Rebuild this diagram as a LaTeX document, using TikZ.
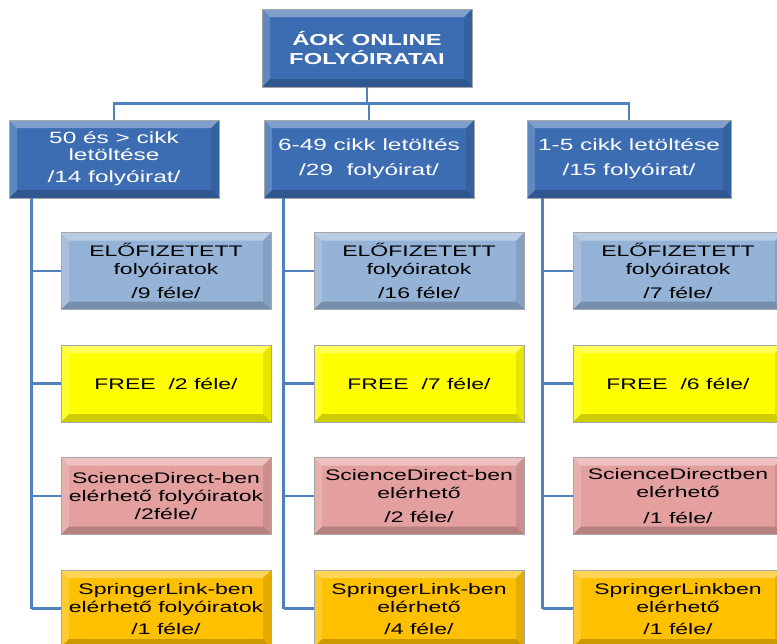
\documentclass[tikz,border=0pt]{standalone}
\usepackage{fontspec}
\setmainfont{Liberation Sans}[FakeStretch=1.5]
\usetikzlibrary{positioning}
\definecolor{darkblue}{HTML}{3C6DB3}
\definecolor{paleblue}{HTML}{95B3D7}
\definecolor{freeyellow}{HTML}{FFFF00}
\definecolor{rose}{HTML}{E3A09E}
\definecolor{gold}{HTML}{FFC000}
\definecolor{linkblue}{HTML}{4F81BD}

\tikzset{
  bevel/.style={path picture={
    \coordinate (nw) at (path picture bounding box.north west);
    \coordinate (ne) at (path picture bounding box.north east);
    \coordinate (sw) at (path picture bounding box.south west);
    \coordinate (se) at (path picture bounding box.south east);
    \fill[white,opacity=.35] (nw) -- (ne) -- ([shift={(-6pt,-6pt)}]ne) -- ([shift={(6pt,-6pt)}]nw) -- cycle;
    \fill[white,opacity=.18] (nw) -- (sw) -- ([shift={(6pt,6pt)}]sw) -- ([shift={(6pt,-6pt)}]nw) -- cycle;
    \fill[black,opacity=.2] (sw) -- (se) -- ([shift={(-6pt,6pt)}]se) -- ([shift={(6pt,6pt)}]sw) -- cycle;
    \fill[black,opacity=.1] (ne) -- (se) -- ([shift={(-6pt,6pt)}]se) -- ([shift={(-6pt,-6pt)}]ne) -- cycle;
  }},
  box/.style={bevel, fill=#1, draw=gray!70, line width=0.4pt, align=center, inner sep=2pt},
  root/.style={box=darkblue, text=white, font=\bfseries\fontsize{11.9}{14.25}\selectfont,
    minimum width=157.5pt, minimum height=58.5pt},
  cat/.style={box=darkblue, text=white, font=\fontsize{12.2}{12.75}\selectfont,
    minimum width=157.5pt, minimum height=58.5pt},
  item/.style={box=#1, font=\fontsize{11.5}{13.5}\selectfont,
    minimum width=157.5pt, minimum height=57.75pt},
  link/.style={draw=linkblue, line width=2pt},
}

\begin{document}
\begin{tikzpicture}[x=0.75pt,y=-0.75pt,node distance=26.25pt]
	\useasboundingbox (0,0) rectangle (777,643);
	\clip (0,0) rectangle (777,643);
	% top
	\node[root] (root) at (367,48) {ÁOK ONLINE\\FOLYÓIRATAI};
	% download groups
	\node[cat] (a_0) at (114,159) {50 és > cikk\\letöltése\\[4pt]/14 folyóirat/};
	\node[cat] (b_0) at (369,159) {6-49 cikk letöltés\\[6pt]/29\ \ folyóirat/};
	\node[cat,minimum width=153pt] (c_0) at (629,159) {1-5 cikk letöltése\\[6pt]/15 folyóirat/};
	% first column
	\node[item=paleblue] (a_1) at (166,271) {ELŐFIZETETT\\folyóiratok\\[5pt]/9 féle/};
	\node[item=freeyellow] (a_2) [below=of a_1] {FREE\ \ /2 féle/};
	\node[item=rose] (a_3) [below=of a_2] {ScienceDirect-ben\\elérhető folyóiratok\\/2féle/};
	\node[item=gold] (a_4) [below=of a_3] {SpringerLink-ben\\elérhető folyóiratok\\[3pt]/1 féle/};
	% second column
	\node[item=paleblue] (b_1) at (419,271) {ELŐFIZETETT\\folyóiratok\\[5pt]/16 féle/};
	\node[item=freeyellow] (b_2) [below=of b_1] {FREE\ \ /7 féle/};
	\node[item=rose] (b_3) [below=of b_2] {ScienceDirect-ben\\elérhető\\[5pt]/2 féle/};
	\node[item=gold] (b_4) [below=of b_3] {SpringerLink-ben\\elérhető\\[3pt]/4 féle/};
	% third column
	\node[item=paleblue] (c_1) at (678,271) {ELŐFIZETETT\\folyóiratok\\[5pt]/7 féle/};
	\node[item=freeyellow] (c_2) [below=of c_1] {FREE\ \ /6 féle/};
	\node[item=rose] (c_3) [below=of c_2] {ScienceDirectben\\elérhető\\[6pt]/1 féle/};
	\node[item=gold] (c_4) [below=of c_3] {SpringerLinkben\\elérhető\\[3pt]/1 féle/};
	% connectors
	\draw[link] (root.south) -- ++(0,16) -| (a_0);
	\draw[link] (root.south) -- ++(0,16) -| (b_0);
	\draw[link] (root.south) -- ++(0,16) -| (c_0);
	\coordinate (ta) at ([xshift=-21.75pt]a_1.west);
	\coordinate (tb) at ([xshift=-22.5pt]b_1.west);
	\coordinate (tc) at ([xshift=-22.5pt]c_1.west);
	\draw[link] (ta |- a_0.south) -- (ta |- a_4) (ta |- a_1) -- (a_1) (ta |- a_2) -- (a_2)
		(ta |- a_3) -- (a_3) (ta |- a_4) -- (a_4);
	\draw[link] (tb |- b_0.south) -- (tb |- b_4) (tb |- b_1) -- (b_1) (tb |- b_2) -- (b_2)
		(tb |- b_3) -- (b_3) (tb |- b_4) -- (b_4);
	\draw[link] (tc |- c_0.south) -- (tc |- c_4) (tc |- c_1) -- (c_1) (tc |- c_2) -- (c_2)
		(tc |- c_3) -- (c_3) (tc |- c_4) -- (c_4);
\end{tikzpicture}
\end{document}
